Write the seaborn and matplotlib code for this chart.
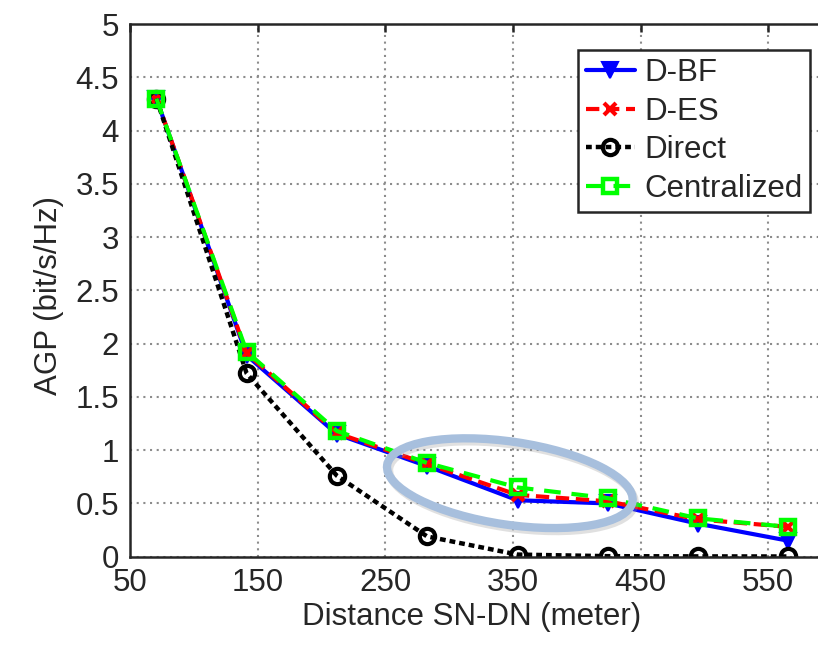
import numpy as np
import pandas as pd
import matplotlib
matplotlib.use("Agg")
import matplotlib.pyplot as plt
import seaborn as sns
from matplotlib.patches import Ellipse
from matplotlib.transforms import IdentityTransform

# ---- data ----
distance = [70.7, 141.4, 212.1, 282.8, 353.6, 424.3, 495.0, 565.7]
d_bf = [4.30, 1.89, 1.15, 0.85, 0.53, 0.50, 0.31, 0.15]
d_es = [4.30, 1.91, 1.16, 0.87, 0.58, 0.52, 0.35, 0.28]
direct = [4.30, 1.72, 0.76, 0.19, 0.02, 0.005, 0.003, 0.002]
centralized = [4.30, 1.925, 1.18, 0.88, 0.65, 0.55, 0.36, 0.28]
series_names = ["D-BF", "D-ES", "Direct", "Centralized"]
x_ticks = [50, 150, 250, 350, 450, 550]
y_ticks = [0, 0.5, 1, 1.5, 2, 2.5, 3, 3.5, 4, 4.5, 5]
y_tick_labels = ["0", "0.5", "1", "1.5", "2", "2.5", "3", "3.5", "4", "4.5", "5"]
highlight_center = (347.6, 0.69)   # annotated ellipse centre (data units)

sns.set_style("white")
plt.rcParams["font.family"] = ["Liberation Sans", "DejaVu Sans"]

W, H = 818, 654
fig = plt.figure(figsize=(W / 100, H / 100), dpi=100)
ax_left, ax_right, ax_top, ax_bottom = 130, 832, 24, 556.7
ax = fig.add_axes([ax_left / W, (H - ax_bottom) / H,
                   (ax_right - ax_left) / W, (ax_bottom - ax_top) / H])

df = pd.DataFrame({"distance": distance * 4,
                   "agp": d_bf + d_es + direct + centralized,
                   "series": sum([[n] * len(distance) for n in series_names], [])})

styles = {
    "D-BF": dict(color="#0000ff", marker="v", linestyle="-", markersize=12,
                 markerfacecolor="#0000ff", markeredgewidth=1.5, linewidth=3.0),
    "D-ES": dict(color="#ff0000", marker="x", linestyle=(0, (3.2, 1.6)), markersize=9,
                 markeredgewidth=3.0, linewidth=3.0),
    "Direct": dict(color="#000000", marker="o", linestyle=(0, (1.3, 0.9)), markersize=11,
                   markerfacecolor="none", markeredgewidth=3.0, linewidth=3.2),
    "Centralized": dict(color="#00ff00", marker="s", linestyle=(0, (4.0, 2.6)), markersize=10,
                        markerfacecolor="none", markeredgewidth=3.2, linewidth=3.0),
}

for name in series_names:
    sub = df[df["series"] == name]
    st = dict(styles[name])
    color = st.pop("color")
    sns.lineplot(data=sub, x="distance", y="agp", ax=ax, color=color,
                 label=name, markeredgecolor=color, **st)

ax.set_xlim(50, 600)
ax.set_ylim(0, 5)
ax.set_xticks(x_ticks)
ax.set_xticklabels([str(t) for t in x_ticks])
ax.set_yticks(y_ticks)
ax.set_yticklabels(y_tick_labels)

ax.grid(True, linestyle=(0, (1, 2.2)), color="#8c8c8c", linewidth=1.5)
ax.set_axisbelow(True)
for s in ax.spines.values():
    s.set_color("#262626")
    s.set_linewidth(1.8)
ax.spines["right"].set_visible(False)
ax.tick_params(direction="in", length=6, width=1.8, top=True, right=False,
               labelsize=22.5, colors="#262626", pad=8)

ax.set_xlabel("Distance SN-DN (meter)", fontsize=22.5, color="#262626")
ax.set_ylabel("AGP (bit/s/Hz)", fontsize=22.5, color="#262626")
ax.xaxis.set_label_coords((472 - ax_left) / (ax_right - ax_left), -0.085)
ax.yaxis.set_label_coords(-0.094, 0.49)

leg = ax.legend(loc="upper right", bbox_to_anchor=(810 / W, (H - 50) / H),
                bbox_transform=fig.transFigure, fontsize=22.5, frameon=True,
                fancybox=False, edgecolor="#262626", framealpha=1,
                handlelength=1.55, handletextpad=0.3, borderpad=0.25,
                labelspacing=0.28, borderaxespad=0)
leg.get_frame().set_linewidth(1.8)

# highlight ellipse (drawn in pixel space so its shape matches the reference)
fig.canvas.draw()
cx, cy = ax.transData.transform(highlight_center)
shadow = Ellipse((cx + 2, cy - 3), 248, 83, angle=-8.4, fill=False,
                 edgecolor="#9a9a9a", linewidth=6, alpha=0.3,
                 transform=IdentityTransform(), zorder=9)
ell = Ellipse((cx, cy), 248, 83, angle=-8.4, fill=False, edgecolor="#a7bfdd",
              linewidth=6, transform=IdentityTransform(), zorder=10)
fig.add_artist(shadow)
fig.add_artist(ell)

fig.savefig("out.png", dpi=100)
